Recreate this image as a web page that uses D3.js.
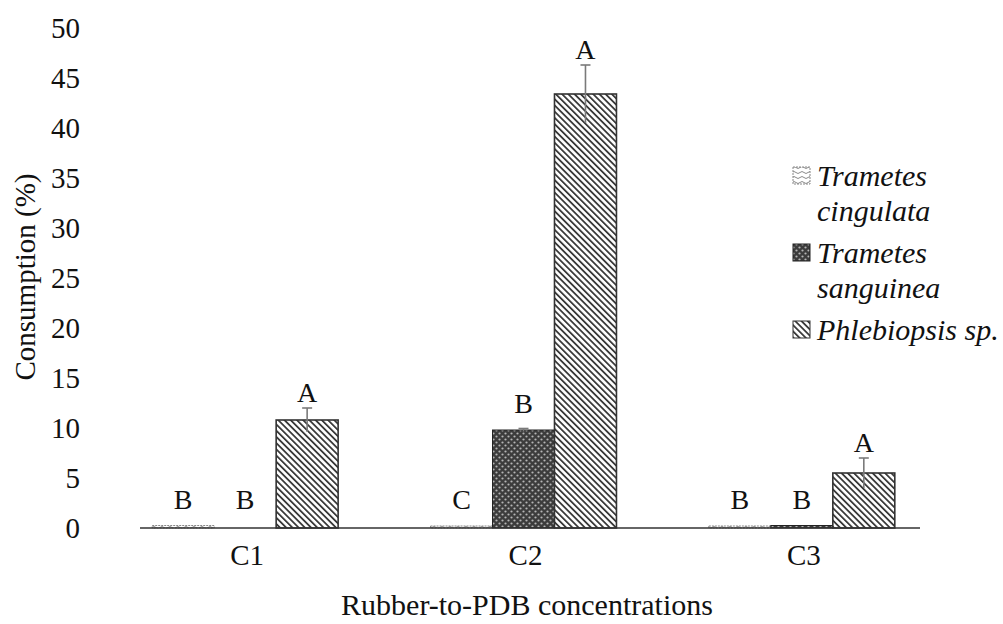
<!DOCTYPE html>
<html lang="en">
<head>
<meta charset="UTF-8">
<script src="https://d3js.org/d3.v7.min.js"></script>
<title>Consumption</title>
<style>
    body { margin: 0; background: #fff; }
    text { font-family: "Liberation Serif", "Times New Roman", serif; fill: #111; }
</style>
</head>
<body>
<script>
    // ---------------- data ----------------
    const groups = ["C1", "C2", "C3"];
    const species = ["cingulata", "sanguinea", "phlebiopsis"];
    const legendLines = [["Trametes", "cingulata"], ["Trametes", "sanguinea"], ["Phlebiopsis sp."]];
    const cingulataVals = [0.25, 0.2, 0.2];
    const sanguineaVals = [0, 9.8, 0.25];
    const phlebiopsisVals = [10.8, 43.4, 5.5];
    const cingulataErr = [0, 0, 0];
    const sanguineaErr = [0, 0.15, 0];
    const phlebiopsisErr = [1.2, 2.9, 1.5];
    const cingulataLetters = ["B", "C", "B"];
    const sanguineaLetters = ["B", "B", "B"];
    const phlebiopsisLetters = ["A", "A", "A"];
    const yTicks = [0, 5, 10, 15, 20, 25, 30, 35, 40, 45, 50];

    const vals = [cingulataVals, sanguineaVals, phlebiopsisVals];
    const errs = [cingulataErr, sanguineaErr, phlebiopsisErr];
    const letters = [cingulataLetters, sanguineaLetters, phlebiopsisLetters];

    const rows = [];
    groups.forEach((g, gi) => {
        species.forEach((s, si) => {
            rows.push({ group: g, sp: s, v: vals[si][gi], e: errs[si][gi], lab: letters[si][gi] });
        });
    });

    // ---------------- layout ----------------
    const W = 1003, H = 624;
    const svg = d3.select("body").append("svg").attr("width", W).attr("height", H);

    const x0 = d3.scaleBand().domain(groups).range([106, 941])
        .paddingInner(0.332).paddingOuter(0.166);
    const x1 = d3.scaleBand().domain(species).range([0, x0.bandwidth()]);
    const y = d3.scaleLinear().domain([0, 50]).range([528, 28]);

    // ---------------- patterns ----------------
    const defs = svg.append("defs");

    const pCing = defs.append("pattern").attr("id", "p-cingulata")
        .attr("patternUnits", "userSpaceOnUse").attr("width", 8).attr("height", 5);
    pCing.append("rect").attr("width", 8).attr("height", 5).attr("fill", "#fff");
    pCing.append("path").attr("d", "M0,2.5 Q2,0.5 4,2.5 T8,2.5")
        .attr("fill", "none").attr("stroke", "#8a8a8a").attr("stroke-width", 1);

    const pSang = defs.append("pattern").attr("id", "p-sanguinea")
        .attr("patternUnits", "userSpaceOnUse").attr("width", 6).attr("height", 6);
    pSang.append("rect").attr("width", 6).attr("height", 6).attr("fill", "#3c3c3c");
    pSang.append("circle").attr("cx", 1.5).attr("cy", 1.5).attr("r", 1.1).attr("fill", "#b5b5b5");
    pSang.append("circle").attr("cx", 4.5).attr("cy", 4.5).attr("r", 1.1).attr("fill", "#b5b5b5");

    const pPhleb = defs.append("pattern").attr("id", "p-phlebiopsis")
        .attr("patternUnits", "userSpaceOnUse").attr("width", 4.4).attr("height", 10)
        .attr("patternTransform", "rotate(-45)");
    pPhleb.append("rect").attr("width", 4.4).attr("height", 10).attr("fill", "#fff");
    pPhleb.append("rect").attr("width", 1.8).attr("height", 10).attr("fill", "#3a3a3a");

    const fills = { cingulata: "url(#p-cingulata)", sanguinea: "url(#p-sanguinea)", phlebiopsis: "url(#p-phlebiopsis)" };
    const strokes = { cingulata: "#888", sanguinea: "#222", phlebiopsis: "#333" };

    // ---------------- y axis (labels only) ----------------
    svg.append("g").selectAll("text").data(yTicks).enter().append("text")
        .attr("x", 80).attr("y", d => y(d)).attr("dy", "0.34em")
        .attr("text-anchor", "end").style("font-size", "29px")
        .text(d => d);

    svg.append("text")
        .attr("transform", "translate(35," + 277 + ") rotate(-90)")
        .attr("text-anchor", "middle").style("font-size", "29px")
        .text("Consumption (%)");

    // ---------------- bars ----------------
    const bars = svg.append("g");
    bars.selectAll("rect").data(rows.filter(d => d.v > 0)).enter().append("rect")
        .attr("x", d => x0(d.group) + x1(d.sp))
        .attr("y", d => y(d.v))
        .attr("width", x1.bandwidth())
        .attr("height", d => y(0) - y(d.v))
        .attr("fill", d => fills[d.sp])
        .attr("stroke", d => strokes[d.sp])
        .attr("stroke-width", d => d.sp == "phlebiopsis" ? 1.6 : 1)
        .attr("stroke-dasharray", d => d.sp == "cingulata" ? "2,1" : null);

    // error bars
    const eb = svg.append("g").attr("stroke", "#7a7a7a").attr("stroke-width", 1.6);
    rows.filter(d => d.e > 0).forEach(d => {
        const cx = x0(d.group) + x1(d.sp) + x1.bandwidth() / 2;
        eb.append("line").attr("x1", cx).attr("x2", cx).attr("y1", y(d.v + d.e)).attr("y2", y(d.v - d.e));
        eb.append("line").attr("x1", cx - 5).attr("x2", cx + 5).attr("y1", y(d.v + d.e)).attr("y2", y(d.v + d.e));
    });

    // significance letters
    svg.append("g").selectAll("text").data(rows).enter().append("text")
        .attr("x", d => x0(d.group) + x1(d.sp) + x1.bandwidth() / 2)
        .attr("y", d => Math.min(y(d.v + d.e) - 6, y(d.v) - 17, y(0) - 19))
        .attr("text-anchor", "middle").style("font-size", "28px")
        .text(d => d.lab);

    // ---------------- x axis ----------------
    svg.append("line").attr("x1", 140).attr("x2", 920).attr("y1", y(0)).attr("y2", y(0))
        .attr("stroke", "#333").attr("stroke-width", 1.6);

    svg.append("g").selectAll("text").data(groups).enter().append("text")
        .attr("x", d => x0(d) + x0.bandwidth() / 2 + 2).attr("y", 565)
        .attr("text-anchor", "middle").style("font-size", "29px")
        .text(d => d);

    svg.append("text").attr("x", 527).attr("y", 615)
        .attr("text-anchor", "middle").style("font-size", "30px")
        .text("Rubber-to-PDB concentrations");

    // ---------------- legend ----------------
    const legend = svg.append("g");
    species.forEach((s, i) => {
        const base = 186 + i * 77;
        legend.append("rect").attr("x", 793).attr("y", base - 19).attr("width", 17).attr("height", 17)
            .attr("fill", fills[s]).attr("stroke", strokes[s])
            .attr("stroke-dasharray", s == "cingulata" ? "2,1" : null);
        legendLines[i].forEach((t, j) => {
            legend.append("text").attr("x", 817).attr("y", base + j * 35)
                .style("font-size", "30px").style("font-style", "italic")
                .text(t);
        });
    });
</script>
</body>
</html>
